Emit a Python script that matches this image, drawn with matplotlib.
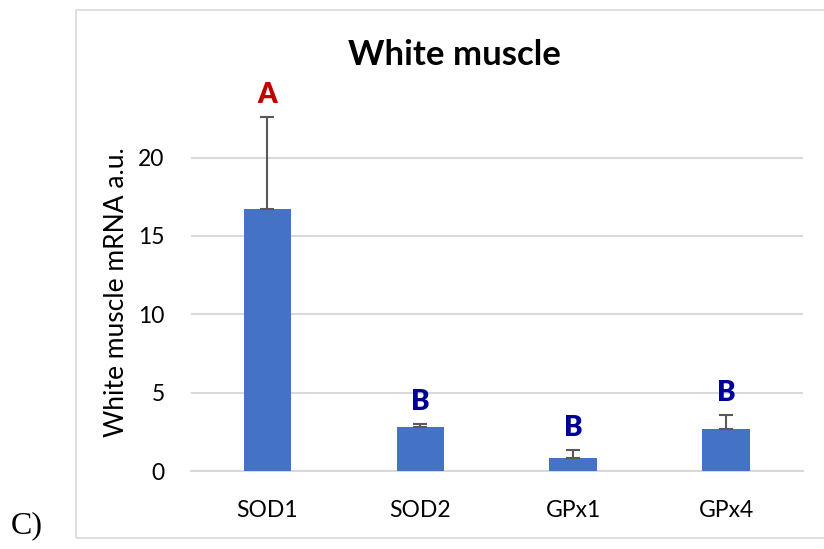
import matplotlib.pyplot as plt
from matplotlib.patches import Rectangle

genes = ['SOD1', 'SOD2', 'GPx1', 'GPx4']
means = [16.7, 2.78, 0.85, 2.65]
errs = [5.9, 0.2, 0.5, 0.92]
letters = ['A', 'B', 'B', 'B']
letter_colors = ['#C00000', '#000099', '#000099', '#000099']
yticks = [0, 5, 10, 15, 20]

plt.rcParams['font.family'] = ['Lato', 'DejaVu Sans']

fig = plt.figure(figsize=(8.24, 5.49), dpi=100)
ax = fig.add_axes([191 / 824, 1 - 471 / 549, 611.5 / 824, 376 / 549])

x = range(len(genes))
ax.bar(x, means, width=0.31, color='#4472C4', zorder=3)
ax.errorbar(x, means, yerr=[[0] * len(errs), errs], fmt='none',
            ecolor='#595959', elinewidth=1.5, capsize=5, capthick=1.5, zorder=4)

# significance letters above the error bars
for i, (m, e, lab, c) in enumerate(zip(means, errs, letters, letter_colors)):
    ax.annotate(lab, xy=(i, m + e), xytext=(0, 16), textcoords='offset points',
                ha='center', va='center', fontsize=20, fontweight='heavy',
                color=c, annotation_clip=False)

ax.set_xlim(-0.5, 3.5)
ax.set_ylim(0, 24)
ax.set_yticks(yticks)
ax.set_xticks(list(x))
ax.set_xticklabels(genes)
ax.tick_params(axis='both', length=0, labelsize=16.5, colors='black')
ax.tick_params(axis='x', pad=21)
ax.tick_params(axis='y', pad=19)
ax.yaxis.grid(True, color='#D9D9D9', linewidth=1.5, zorder=0)
for s in ['top', 'right', 'left']:
    ax.spines[s].set_visible(False)
ax.spines['bottom'].set_color('#D9D9D9')
ax.spines['bottom'].set_linewidth(1.5)

fig.text(117 / 824, 1 - 292 / 549, 'White muscle mRNA a.u.', rotation=90,
         ha='center', va='center', fontsize=19)
fig.text(454 / 824, 1 - 55 / 549, 'White muscle', ha='center', va='center',
         fontsize=25, fontweight='bold')
fig.text(11 / 824, 1 - 526 / 549, 'C)', ha='left', va='center', fontsize=23,
         family='Liberation Serif')

# chart border
fig.patches.append(Rectangle((76 / 824, 1 - 538 / 549), 1.0, 528 / 549,
                             transform=fig.transFigure, fill=False,
                             edgecolor='#D9D9D9', linewidth=1.2))

fig.savefig('out.png', dpi=100)
